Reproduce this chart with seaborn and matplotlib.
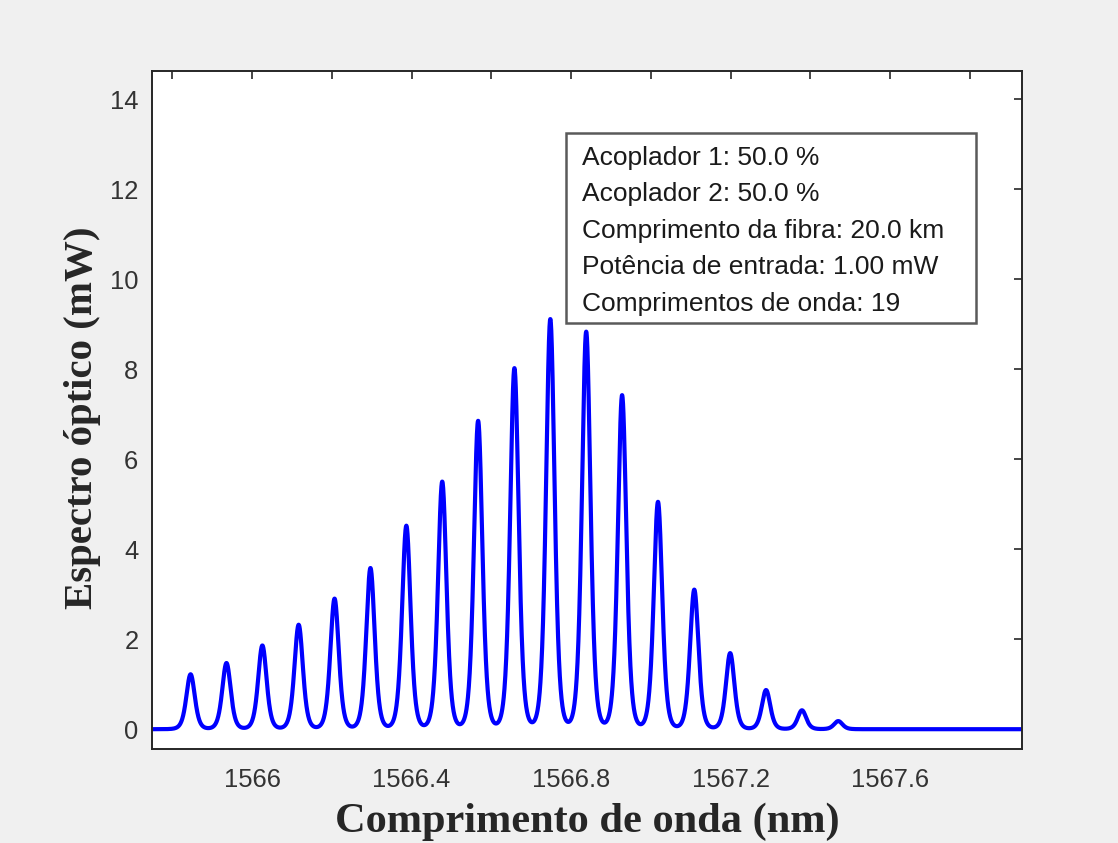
import numpy as np
import pandas as pd
import matplotlib
matplotlib.use("Agg")
import matplotlib.pyplot as plt
import seaborn as sns
from matplotlib.patches import Rectangle
from matplotlib.ticker import MultipleLocator, FuncFormatter

# Channel centres (nm) and peak powers (mW) of the multi-wavelength output
peak_wavelength_nm = [1565.846, 1565.936, 1566.026, 1566.117, 1566.207, 1566.297,
                      1566.387, 1566.477, 1566.567, 1566.658, 1566.748, 1566.838,
                      1566.928, 1567.018, 1567.109, 1567.199, 1567.289, 1567.379,
                      1567.470]
peak_power_mw = [1.22, 1.47, 1.86, 2.32, 2.90, 3.58, 4.52, 5.50, 6.85, 8.02,
                 9.11, 8.83, 7.42, 5.05, 3.10, 1.69, 0.87, 0.42, 0.18]

# Simulation parameters shown in the annotation box
info_lines = [
    "Acoplador 1: 50.0 %",
    "Acoplador 2: 50.0 %",
    "Comprimento da fibra: 20.0 km",
    "Potência de entrada: 1.00 mW",
    "Comprimentos de onda: 19",
]

x_label = "Comprimento de onda (nm)"
y_label = "Espectro óptico (mW)"

# Spectrum: every channel shares the same resonance line shape
wl = np.linspace(1565.75, 1567.93, 6000)
half_width = 0.0267
shape_power = 3.5
spectrum = np.zeros_like(wl)
for c, p in zip(peak_wavelength_nm, peak_power_mw):
    spectrum += p / (1.0 + ((wl - c) / half_width) ** 2) ** shape_power
df = pd.DataFrame({"wl": wl, "p": spectrum})

sns.set_theme(style="white")
plt.rcParams["font.family"] = ["Liberation Sans", "DejaVu Sans"]

W, H = 1118, 843
fig = plt.figure(figsize=(W / 100, H / 100), dpi=100, facecolor="#f0f0f0")
ax = fig.add_axes([152.3 / W, (H - 749) / H, (1021.7 - 152.3) / W, (749 - 70.7) / H])
ax.set_facecolor("white")

sns.lineplot(data=df, x="wl", y="p", ax=ax, color="#0000ff", linewidth=3.0,
             estimator=None, sort=False)

ax.set_xlim(1565.75, 1567.93)
ax.set_ylim(-0.44, 14.63)

ax.xaxis.set_major_locator(MultipleLocator(0.2))
ax.yaxis.set_major_locator(MultipleLocator(2))


def xfmt(v, pos):
    k = int(round((v - 1566.0) / 0.2))
    return f"{v:g}" if k % 2 == 0 else ""


ax.xaxis.set_major_formatter(FuncFormatter(xfmt))
ax.yaxis.set_major_formatter(FuncFormatter(lambda v, p: f"{v:g}"))

dark = "#262626"
for s in ax.spines.values():
    s.set_visible(True)
    s.set_color(dark)
    s.set_linewidth(1.4)
ax.tick_params(axis="both", direction="in", length=5.8, width=1.2, color=dark,
               labelcolor="#333333", labelsize=18.4, top=True, right=True)
ax.tick_params(axis="x", pad=14)
ax.tick_params(axis="y", pad=10)

label_font = dict(family=["Liberation Serif", "DejaVu Serif"], fontweight="bold",
                  color=dark)
ax.set_xlabel(x_label, fontsize=30.5, **label_font)
ax.set_ylabel(y_label, fontsize=29.4, **label_font)
ax.xaxis.set_label_coords(0.5, -0.079)
ax.yaxis.set_label_coords(-0.059, 0.488)
ax.xaxis.label.set_va("top")

# Annotation box with the simulation parameters
ax.add_patch(Rectangle((0.4758, 0.628), 0.9474 - 0.4758, 0.9081 - 0.628,
                       transform=ax.transAxes, facecolor="white",
                       edgecolor="#5a5a5a", linewidth=1.8, zorder=5))
ax.text(0.4942, 0.8894, "\n".join(info_lines), transform=ax.transAxes,
        ha="left", va="top", fontsize=19, color="#1a1a1a", linespacing=1.66,
        zorder=6)

fig.savefig("out.png", dpi=100, facecolor=fig.get_facecolor())
